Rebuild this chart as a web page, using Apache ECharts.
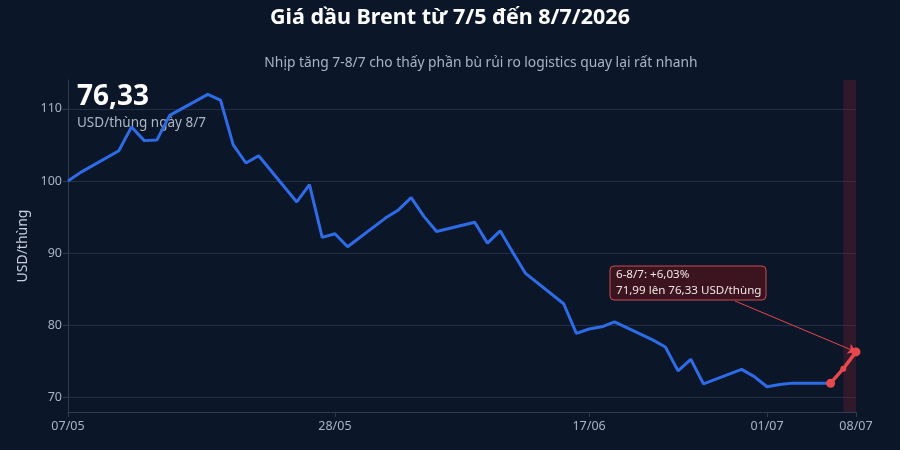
<!DOCTYPE html>
<html>
<head>
<meta charset="utf-8">
<script src="https://cdn.jsdelivr.net/npm/echarts@6/dist/echarts.min.js"></script>
<style>
  html, body { margin: 0; padding: 0; background: #0b1628; }
  #chart { width: 900px; height: 450px; }
</style>
</head>
<body>
<div id="chart"></div>
<script>
// giá Brent theo ngày giao dịch
const dates = [
  '2026-05-07', '2026-05-08', '2026-05-11', '2026-05-12', '2026-05-13', '2026-05-14', '2026-05-15',
  '2026-05-18', '2026-05-19', '2026-05-20', '2026-05-21', '2026-05-22',
  '2026-05-25', '2026-05-26', '2026-05-27', '2026-05-28', '2026-05-29',
  '2026-06-01', '2026-06-02', '2026-06-03', '2026-06-04', '2026-06-05',
  '2026-06-08', '2026-06-09', '2026-06-10', '2026-06-11', '2026-06-12',
  '2026-06-15', '2026-06-16', '2026-06-17', '2026-06-18', '2026-06-19',
  '2026-06-22', '2026-06-23', '2026-06-24', '2026-06-25', '2026-06-26',
  '2026-06-29', '2026-06-30', '2026-07-01', '2026-07-02', '2026-07-03',
  '2026-07-06'
];
const prices = [
  100.0, 101.2, 104.2, 107.5, 105.6, 105.7, 109.1,
  112.0, 111.2, 105.0, 102.5, 103.5,
  97.1, 99.5, 92.2, 92.7, 90.9,
  94.9, 96.0, 97.7, 95.1, 93.0,
  94.3, 91.4, 93.1, 90.1, 87.2,
  83.0, 78.9, 79.5, 79.8, 80.5,
  78.0, 77.0, 73.7, 75.3, 71.9,
  73.9, 72.9, 71.5, 71.8, 72.0,
  71.99
];
// đoạn tăng 6-8/7
const jumpDates = ['2026-07-06', '2026-07-07', '2026-07-08'];
const jumpPrices = [71.99, 74.0, 76.33];

const tickDates = ['2026-05-07', '2026-05-28', '2026-06-17', '2026-07-01', '2026-07-08'];
const yTicks = [70, 80, 90, 100, 110];

// trục x: số ngày kể từ 7/5
const DAY = 86400000;
function ts(s) {
  const p = s.split('-').map(Number);
  return Date.UTC(p[0], p[1] - 1, p[2]);
}
const t0 = ts(dates[0]);
function dayOf(s) { return Math.round((ts(s) - t0) / DAY); }
function pad(n) { return n < 10 ? '0' + n : '' + n; }

const mainData = dates.map((d, i) => [dayOf(d), prices[i]]);
const jumpData = jumpDates.map((d, i) => [dayOf(d), jumpPrices[i]]);
const xTicks = tickDates.map(dayOf);

const myChart = echarts.init(document.getElementById('chart'));
const option = {
  backgroundColor: '#0b1628',
  textStyle: { fontFamily: 'Noto Sans' },
  grid: { left: 68, right: 44, top: 80, bottom: 38 },
  xAxis: {
    type: 'value',
    min: 0,
    max: dayOf('2026-07-08'),
    axisLine: { lineStyle: { color: '#2e3b52' } },
    axisTick: { show: true, length: 5, customValues: xTicks, lineStyle: { color: '#2e3b52' } },
    axisLabel: {
      customValues: xTicks,
      color: '#aab4c2',
      fontSize: 12.5,
      margin: 8,
      formatter: function (v) {
        const d = new Date(t0 + v * DAY);
        return pad(d.getUTCDate()) + '/' + pad(d.getUTCMonth() + 1);
      }
    },
    splitLine: { show: false }
  },
  yAxis: {
    type: 'value',
    min: 68,
    max: 114,
    name: 'USD/thùng',
    nameLocation: 'middle',
    nameGap: 36,
    nameTextStyle: { color: '#c8d0dc', fontSize: 14 },
    axisLine: { show: true, lineStyle: { color: '#2e3b52' } },
    axisTick: { show: true, length: 5, customValues: yTicks, lineStyle: { color: '#2e3b52' } },
    axisLabel: { customValues: yTicks, color: '#aab4c2', fontSize: 12.5, margin: 6 },
    splitLine: { show: true, lineStyle: { color: '#222f44', width: 1 } }
  },
  series: [
    {
      type: 'line',
      data: mainData,
      showSymbol: false,
      lineStyle: { color: '#2e6be6', width: 3 },
      itemStyle: { color: '#2e6be6' },
      z: 3
    },
    {
      type: 'line',
      data: jumpData,
      symbol: 'circle',
      symbolSize: function (v, p) { return p.dataIndex === 1 ? 6 : 9; },
      lineStyle: { color: '#e5484d', width: 3.5 },
      itemStyle: { color: '#e5484d' },
      z: 4,
      markArea: {
        silent: true,
        itemStyle: { color: 'rgba(120, 32, 52, 0.35)' },
        data: [[{ xAxis: dayOf('2026-07-07') }, { xAxis: dayOf('2026-07-08') }]]
      },
      markLine: {
        silent: true,
        symbol: ['none', 'arrow'],
        symbolSize: 8,
        label: { show: false },
        lineStyle: { color: '#e5484d', width: 1, type: 'solid' },
        data: [[{ x: 735, y: 301 }, { coord: [dayOf('2026-07-08'), 76.33] }]]
      }
    }
  ],
  graphic: [
    {
      type: 'text', x: 450, y: 18,
      style: { text: 'Giá dầu Brent từ 7/5 đến 8/7/2026', fill: '#ffffff', font: 'bold 21.5px "Noto Sans"',
        align: 'center', verticalAlign: 'middle' }
    },
    {
      type: 'text', x: 481, y: 63,
      style: { text: 'Nhịp tăng 7-8/7 cho thấy phần bù rủi ro logistics quay lại rất nhanh', fill: '#aab4c2',
        font: '13.8px "Noto Sans"', align: 'center', verticalAlign: 'middle' }
    },
    {
      type: 'text', x: 77, y: 97,
      style: { text: '76,33', fill: '#ffffff', font: 'bold 28px "Noto Sans"', verticalAlign: 'middle' }
    },
    {
      type: 'text', x: 77, y: 123,
      style: { text: 'USD/thùng ngày 8/7', fill: '#aeb7c4', font: '13.5px "Noto Sans"', verticalAlign: 'middle' }
    },
    {
      type: 'rect', shape: { x: 610, y: 266, width: 156, height: 34, r: 4 },
      style: { fill: 'rgba(64, 20, 30, 0.9)', stroke: '#c94a52', lineWidth: 1 },
      z: 10
    },
    {
      type: 'text', x: 616, y: 275, z: 11,
      style: { text: '6-8/7: +6,03%', fill: '#f1e6e6', font: '11.6px "Noto Sans"', verticalAlign: 'middle' }
    },
    {
      type: 'text', x: 616, y: 291, z: 11,
      style: { text: '71,99 lên 76,33 USD/thùng', fill: '#f1e6e6', font: '11.6px "Noto Sans"', verticalAlign: 'middle' }
    }
  ]
};
myChart.clear();
myChart.setOption(option);
</script>
</body>
</html>
